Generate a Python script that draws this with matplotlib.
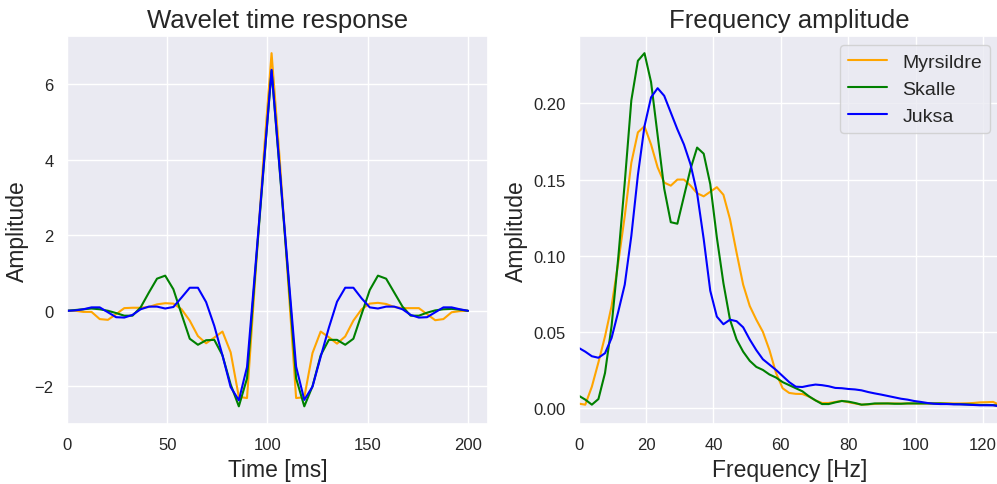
import matplotlib
matplotlib.use("Agg")
import matplotlib.pyplot as plt
import numpy as np
import seaborn as sns

# sample times (ms) and frequencies (Hz)
time_ms = np.linspace(0, 200, 50)
freq_hz = np.arange(65) * 250 / 128

names = ["Myrsildre", "Skalle", "Juksa"]
colors = ["orange", "green", "blue"]

# wavelets
myrsildre_wav = [0.0, 0.0, -0.03, -0.03, -0.22, -0.24, -0.09, 0.07, 0.08, 0.08,
                 0.10, 0.17, 0.20, 0.19, 0.04, -0.26, -0.67, -0.86, -0.71, -0.55,
                 -1.10, -2.28, -2.31, 0.85, 4.0, 6.82, 4.0, 0.85, -2.31, -2.29,
                 -1.12, -0.55, -0.70, -0.87, -0.68, -0.26, 0.04, 0.19, 0.21, 0.18,
                 0.10, 0.07, 0.07, 0.07, -0.09, -0.25, -0.22, -0.04, -0.01, 0.0]
skalle_wav = [0.0, 0.02, 0.04, 0.06, 0.04, 0.0, -0.06, -0.13, -0.13, 0.09,
              0.48, 0.85, 0.93, 0.57, -0.09, -0.74, -0.90, -0.78, -0.77, -1.18,
              -1.95, -2.53, -1.79, 1.0, 3.7, 6.35, 3.7, 1.0, -1.79, -2.53,
              -2.0, -1.18, -0.77, -0.77, -0.90, -0.74, -0.09, 0.55, 0.93, 0.85,
              0.48, 0.11, -0.13, -0.13, -0.05, 0.01, 0.04, 0.05, 0.03, 0.0]
juksa_wav = [0.0, 0.01, 0.04, 0.09, 0.09, -0.04, -0.17, -0.18, -0.11, 0.04,
             0.11, 0.11, 0.06, 0.10, 0.35, 0.61, 0.61, 0.23, -0.40, -1.18,
             -2.02, -2.37, -1.49, 1.1, 3.75, 6.38, 3.75, 1.1, -1.48, -2.36,
             -2.01, -1.22, -0.45, 0.24, 0.61, 0.61, 0.33, 0.09, 0.06, 0.11,
             0.11, 0.04, -0.11, -0.18, -0.17, -0.04, 0.09, 0.09, 0.04, 0.0]

# amplitude spectra
myrsildre_amp = [0.0029, 0.0022, 0.014, 0.030, 0.047, 0.067, 0.095, 0.126, 0.161, 0.181,
                 0.185, 0.173, 0.158, 0.148, 0.146, 0.150, 0.150, 0.146, 0.141, 0.139,
                 0.142, 0.145, 0.140, 0.124, 0.102, 0.081, 0.067, 0.058, 0.050, 0.038,
                 0.023, 0.013, 0.0099, 0.0093, 0.0092, 0.0075, 0.005, 0.0033, 0.0033, 0.004,
                 0.0047, 0.0038, 0.003, 0.0022, 0.0024, 0.0027, 0.0029, 0.003, 0.003, 0.0029,
                 0.003, 0.003, 0.003, 0.003, 0.003, 0.0031, 0.0031, 0.003, 0.003, 0.0031,
                 0.0033, 0.0037, 0.0038, 0.004, 0.002]
skalle_amp = [0.0081, 0.0055, 0.0022, 0.0059, 0.023, 0.054, 0.098, 0.148, 0.202, 0.228,
              0.233, 0.214, 0.179, 0.144, 0.122, 0.121, 0.139, 0.157, 0.171, 0.167,
              0.147, 0.112, 0.082, 0.058, 0.045, 0.037, 0.031, 0.027, 0.025, 0.022,
              0.020, 0.017, 0.015, 0.013, 0.011, 0.0077, 0.005, 0.0026, 0.0026, 0.0037,
              0.0046, 0.0042, 0.0033, 0.0022, 0.0025, 0.003, 0.003, 0.003, 0.0028, 0.0028,
              0.003, 0.003, 0.003, 0.003, 0.003, 0.003, 0.0028, 0.0026, 0.0025, 0.0024,
              0.0022, 0.002, 0.002, 0.0019, 0.0015]
juksa_amp = [0.0395, 0.037, 0.034, 0.033, 0.036, 0.046, 0.063, 0.081, 0.113, 0.153,
             0.185, 0.204, 0.210, 0.205, 0.194, 0.183, 0.173, 0.160, 0.141, 0.111,
             0.077, 0.060, 0.055, 0.058, 0.057, 0.053, 0.045, 0.038, 0.032, 0.0285,
             0.025, 0.021, 0.017, 0.014, 0.0138, 0.0147, 0.0154, 0.015, 0.0143, 0.0132,
             0.013, 0.0125, 0.0122, 0.0116, 0.0105, 0.0096, 0.0088, 0.0079, 0.007, 0.0061,
             0.0055, 0.0046, 0.004, 0.0033, 0.0028, 0.0026, 0.0026, 0.0024, 0.0024, 0.0022,
             0.002, 0.0018, 0.0018, 0.0018, 0.0011]

wavelets = [myrsildre_wav, skalle_wav, juksa_wav]
spectra = [myrsildre_amp, skalle_amp, juksa_amp]

sns.set_theme(style="darkgrid")
plt.rcParams["font.family"] = ["Liberation Sans", "DejaVu Sans"]

fig = plt.figure(figsize=(9.97, 4.85), dpi=100)
ax1 = fig.add_axes([67 / 997, 60 / 485, 421 / 997, 388.5 / 485])
ax2 = fig.add_axes([578.7 / 997, 60 / 485, 421 / 997, 388.5 / 485])

for w, c in zip(wavelets, colors):
    ax1.plot(time_ms, w, color=c, lw=1.5)
ax1.set_xlim(0, 210)
ax1.set_xticks([0, 50, 100, 150, 200])
ax1.set_title("Wavelet time response", fontsize=18.5)
ax1.set_xlabel("Time [ms]", fontsize=16.5)
ax1.set_ylabel("Amplitude", fontsize=16.5)
ax1.tick_params(labelsize=12)

for a, c, n in zip(spectra, colors, names):
    ax2.plot(freq_hz, a, color=c, lw=1.5, label=n)
ax2.set_xlim(0, 125)
ax2.set_title("Frequency amplitude", fontsize=18.5)
ax2.set_xlabel("Frequency [Hz]", fontsize=16.5)
ax2.set_ylabel("Amplitude", fontsize=16.5)
ax2.tick_params(labelsize=12)
ax2.legend(loc="upper right", fontsize=14)

fig.savefig("out.png", dpi=100)
